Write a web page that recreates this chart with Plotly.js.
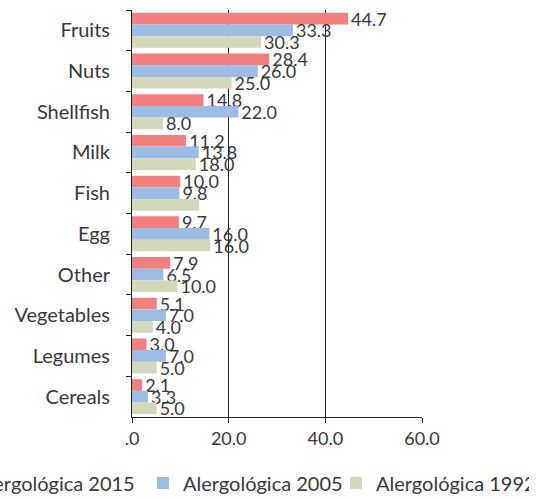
<!DOCTYPE html>
<html>
<head>
<meta charset="utf-8">
<script src="https://cdn.plot.ly/plotly-3.0.1.min.js"></script>
<style>
  html, body { margin: 0; padding: 0; background: #fff; overflow: hidden; width: 550px; height: 499px; }
  #chart { position: absolute; left: -200px; top: 0; width: 750px; height: 499px; }
</style>
</head>
<body>
<div id="chart"></div>
<script>
const categories = ['Fruits', 'Nuts', 'Shellfish', 'Milk', 'Fish', 'Egg', 'Other', 'Vegetables', 'Legumes', 'Cereals'];
const seriesNames = ['Alergológica 2015', 'Alergológica 2005', 'Alergológica 1992'];
const values2015 = [44.7, 28.4, 14.8, 11.2, 10.0, 9.7, 7.9, 5.1, 3.0, 2.1];
const values2005 = [33.3, 26.0, 22.0, 13.8, 9.8, 16.0, 6.5, 7.0, 7.0, 3.3];
const values1992 = [26.7, 20.6, 6.4, 13.2, 13.9, 16.2, 9.4, 4.3, 5.1, 5.1];
const labels2015 = ['44.7', '28.4', '14.8', '11.2', '10.0', '9.7', '7.9', '5.1', '3.0', '2.1'];
const labels2005 = ['33.3', '26.0', '22.0', '13.8', '9.8', '16.0', '6.5', '7.0', '7.0', '3.3'];
const labels1992 = ['30.3', '25.0', '8.0', '18.0', '', '16.0', '10.0', '4.0', '5.0', '5.0'];
const xTickVals = [0, 20, 40, 60];
const xTickText = ['.0', '20.0', '40.0', '60.0'];
const colors = ['#F28080', '#9DBCE3', '#D4D8BA'];

const textColor = '#3a3a3a';
const numFont = { family: 'Lato, Open Sans, sans-serif', size: 18, color: textColor };
const catFont = { family: 'Lato, Open Sans, sans-serif', size: 20, color: textColor };

const seriesValues = [values2015, values2005, values1992];
const seriesLabels = [labels2015, labels2005, labels1992];

const traces = seriesNames.map((name, i) => ({
  type: 'bar',
  orientation: 'h',
  name: name,
  legend: i === 0 ? 'legend' : 'legend2',
  y: categories,
  x: seriesValues[i],
  text: seriesLabels[i],
  textposition: 'outside',
  textfont: numFont,
  constraintext: 'none',
  cliponaxis: false,
  hoverinfo: 'none',
  marker: { color: colors[i], line: { width: 0 } }
}));

const legendBase = {
  orientation: 'h',
  y: -0.162,
  yanchor: 'middle',
  font: catFont,
  traceorder: 'normal',
  bgcolor: 'rgba(0,0,0,0)'
};

const layout = {
  width: 750,
  height: 499,
  margin: { l: 332, r: 128, t: 10, b: 82, autoexpand: false },
  paper_bgcolor: '#ffffff',
  plot_bgcolor: '#ffffff',
  barmode: 'group',
  bargap: 0.14,
  bargroupgap: 0,
  showlegend: true,
  legend: Object.assign({}, legendBase, { x: -0.679, xanchor: 'left' }),
  legend2: Object.assign({}, legendBase, { x: 1.369, xanchor: 'right', entrywidth: 148 }),
  xaxis: {
    range: [0, 60],
    tickvals: xTickVals,
    ticktext: xTickText,
    ticks: 'outside',
    ticklen: 5,
    tickcolor: '#222',
    showline: true,
    linecolor: '#222',
    linewidth: 1,
    showgrid: true,
    gridcolor: '#222',
    gridwidth: 1,
    zeroline: false,
    tickfont: numFont,
    fixedrange: true
  },
  yaxis: {
    type: 'category',
    autorange: 'reversed',
    tickson: 'boundaries',
    ticks: 'outside',
    ticklen: 5,
    tickcolor: '#222',
    showline: true,
    linecolor: '#222',
    linewidth: 1,
    showgrid: false,
    zeroline: false,
    tickfont: catFont,
    ticklabelstandoff: 17,
    fixedrange: true
  }
};

Plotly.newPlot('chart', traces, layout, { displayModeBar: false, staticPlot: true });
</script>
</body>
</html>
